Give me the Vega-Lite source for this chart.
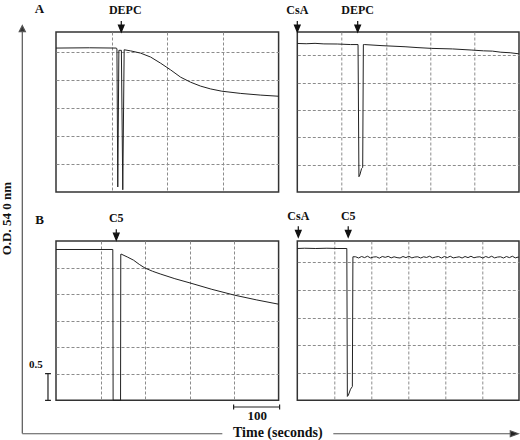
{
  "$schema": "https://vega.github.io/schema/vega-lite/v6.json",
  "autosize": {"type": "pad"},
  "padding": {"left": 0, "top": 1, "right": 0, "bottom": 0},
  "background": "white",
  "bounds": "flush",
  "align": "all",
  "columns": 2,
  "spacing": {"row": 49, "column": 18.3},
  "config": {
    "view": {"stroke": "#333", "strokeWidth": 1.5},
    "axis": {"grid": true, "tickCount": 12, "gridColor": "#8c8c8c", "gridDash": [3, 2], "gridWidth": 1, "labels": false, "ticks": false, "domain": false, "title": null},
    "text": {"font": "Liberation Serif", "fontWeight": "bold", "color": "#111"}
  },
  "datasets": {
    "a1": [
      {"t": 0, "od": 2.57}, {"t": 60, "od": 2.575}, {"t": 108, "od": 2.57}, {"t": 109.5, "od": 2.56},
      {"t": 111, "od": 0.09}, {"t": 113, "od": 2.53}, {"t": 117.5, "od": 2.53}, {"t": 120, "od": 0.04},
      {"t": 122.5, "od": 2.54}, {"t": 134, "od": 2.52}, {"t": 152, "od": 2.48}, {"t": 170, "od": 2.41},
      {"t": 188, "od": 2.3}, {"t": 206, "od": 2.18}, {"t": 224, "od": 2.05}, {"t": 242, "od": 1.96},
      {"t": 260, "od": 1.89}, {"t": 278, "od": 1.84}, {"t": 298, "od": 1.8}, {"t": 332, "od": 1.76},
      {"t": 368, "od": 1.73}, {"t": 400, "od": 1.71}
    ],
    "a2": [
      {"t": 0, "od": 2.72}, {"t": 20, "od": 2.715}, {"t": 40, "od": 2.722}, {"t": 60, "od": 2.712}, {"t": 90, "od": 2.71},
      {"t": 120, "od": 2.7}, {"t": 137, "od": 2.7}, {"t": 139, "od": 0.28}, {"t": 141, "od": 0.31},
      {"t": 145, "od": 0.43}, {"t": 147.5, "od": 0.45}, {"t": 149, "od": 2.7}, {"t": 151, "od": 2.7},
      {"t": 191, "od": 2.68}, {"t": 243, "od": 2.66}, {"t": 270, "od": 2.645}, {"t": 303, "od": 2.63}, {"t": 350, "od": 2.62},
      {"t": 392, "od": 2.6}, {"t": 420, "od": 2.585}, {"t": 440, "od": 2.58}, {"t": 459, "od": 2.56}, {"t": 480, "od": 2.55}, {"t": 500, "od": 2.53}
    ],
    "b1": [
      {"t": 0, "od": 2.84}, {"t": 127.6, "od": 2.84}, {"t": 128.3, "od": 0}, {"t": 145, "od": 0},
      {"t": 145.5, "od": 2.75}, {"t": 146, "od": 2.755}, {"t": 160, "od": 2.7}, {"t": 174, "od": 2.64},
      {"t": 187, "od": 2.56}, {"t": 200, "od": 2.49}, {"t": 217, "od": 2.43}, {"t": 234, "od": 2.38},
      {"t": 267, "od": 2.29}, {"t": 301, "od": 2.21}, {"t": 350, "od": 2.09}, {"t": 401, "od": 1.98},
      {"t": 451, "od": 1.89}, {"t": 500, "od": 1.81}
    ],
    "b2": [
      {"t": 0, "od": 2.75}, {"t": 20, "od": 2.755}, {"t": 50, "od": 2.75}, {"t": 80, "od": 2.755},
      {"t": 110, "od": 2.75}, {"t": 134, "od": 2.75}, {"t": 135.5, "od": 0.07}, {"t": 138, "od": 0.09},
      {"t": 144, "od": 0.2}, {"t": 149, "od": 0.25}, {"t": 150.5, "od": 2.6},
      {"t": 158, "od": 2.6}, {"t": 166, "od": 2.578}, {"t": 174, "od": 2.605}, {"t": 182, "od": 2.585}, {"t": 190, "od": 2.61}, {"t": 198, "od": 2.58}, {"t": 206, "od": 2.595},
      {"t": 214, "od": 2.6}, {"t": 222, "od": 2.575}, {"t": 230, "od": 2.605}, {"t": 238, "od": 2.59}, {"t": 246, "od": 2.608}, {"t": 254, "od": 2.58}, {"t": 262, "od": 2.6},
      {"t": 270, "od": 2.585}, {"t": 278, "od": 2.578}, {"t": 286, "od": 2.605}, {"t": 294, "od": 2.585}, {"t": 302, "od": 2.61}, {"t": 310, "od": 2.58}, {"t": 318, "od": 2.595},
      {"t": 326, "od": 2.6}, {"t": 334, "od": 2.578}, {"t": 342, "od": 2.6}, {"t": 350, "od": 2.588}, {"t": 358, "od": 2.61}, {"t": 366, "od": 2.58}, {"t": 374, "od": 2.595},
      {"t": 382, "od": 2.605}, {"t": 390, "od": 2.578}, {"t": 398, "od": 2.605}, {"t": 406, "od": 2.585}, {"t": 414, "od": 2.61}, {"t": 422, "od": 2.58}, {"t": 430, "od": 2.59},
      {"t": 438, "od": 2.6}, {"t": 446, "od": 2.578}, {"t": 454, "od": 2.605}, {"t": 462, "od": 2.585}, {"t": 470, "od": 2.61}, {"t": 478, "od": 2.582}, {"t": 486, "od": 2.595},
      {"t": 494, "od": 2.6}, {"t": 502, "od": 2.578}, {"t": 510, "od": 2.605}, {"t": 518, "od": 2.585}, {"t": 526, "od": 2.61}, {"t": 534, "od": 2.58}, {"t": 542, "od": 2.595},
      {"t": 550, "od": 2.6}, {"t": 558, "od": 2.578}, {"t": 566, "od": 2.605}, {"t": 574, "od": 2.585}, {"t": 582, "od": 2.61}, {"t": 590, "od": 2.58}, {"t": 598, "od": 2.595}, {"t": 600, "od": 2.59}
    ],
    "a1_ev": [{"t": 117.3, "label": "DEPC"}],
    "a2_ev": [{"t": 0, "label": "CsA"}, {"t": 136.2, "label": "DEPC"}],
    "b1_ev": [{"t": 135.4, "label": "C5"}],
    "b2_ev": [{"t": 2.7, "label": "CsA"}, {"t": 137.8, "label": "C5"}]
  },
  "concat": [
    {
      "width": 222.6, "height": 160,
      "layer": [
        {"data": {"name": "a1"}, "mark": {"type": "line", "color": "#222", "strokeWidth": 1},
         "encoding": {
           "x": {"field": "t", "type": "quantitative", "scale": {"domain": [0, 400], "nice": false, "zero": false}, "axis": {"values": [100, 200, 300]}},
           "y": {"field": "od", "type": "quantitative", "scale": {"domain": [0, 2.857], "nice": false, "zero": false}, "axis": {"values": [0.5, 1, 1.5, 2, 2.5]}}}},
        {"data": {"name": "a1_ev"}, "mark": {"type": "point", "shape": "M0,-1L0,-0.3M-0.52,-0.27L0.52,-0.27L0,1Z", "filled": true, "fill": "#111", "stroke": "#111", "strokeWidth": 1.2, "size": 121, "opacity": 1},
         "encoding": {"x": {"field": "t", "type": "quantitative"}, "y": {"datum": 2.955, "type": "quantitative"}}},
        {"data": {"name": "a1_ev"}, "mark": {"type": "text", "fontSize": 12, "baseline": "alphabetic", "dx": 4},
         "encoding": {"x": {"field": "t", "type": "quantitative"}, "y": {"datum": 3.184, "type": "quantitative"}, "text": {"field": "label"}}},
        {"data": {"values": [{"panel": "A"}]}, "mark": {"type": "text", "fontSize": 13, "baseline": "alphabetic"},
         "encoding": {"x": {"datum": -29.65, "type": "quantitative"}, "y": {"datum": 3.202, "type": "quantitative"}, "text": {"field": "panel"}}}
      ]
    },
    {
      "width": 221.7, "height": 160,
      "layer": [
        {"data": {"name": "a2"}, "mark": {"type": "line", "color": "#222", "strokeWidth": 1},
         "encoding": {
           "x": {"field": "t", "type": "quantitative", "scale": {"domain": [0, 500], "nice": false, "zero": false}, "axis": {"values": [100, 200, 300, 400]}},
           "y": {"field": "od", "type": "quantitative", "scale": {"domain": [0, 2.93], "nice": false, "zero": false}, "axis": {"values": [0.5, 1, 1.5, 2, 2.5]}}}},
        {"data": {"name": "a2_ev"}, "mark": {"type": "point", "shape": "M0,-1L0,-0.3M-0.52,-0.27L0.52,-0.27L0,1Z", "filled": true, "fill": "#111", "stroke": "#111", "strokeWidth": 1.2, "size": 121, "opacity": 1},
         "encoding": {"x": {"field": "t", "type": "quantitative"}, "y": {"datum": 3.031, "type": "quantitative"}}},
        {"data": {"name": "a2_ev"}, "mark": {"type": "text", "fontSize": 12, "baseline": "alphabetic"},
         "encoding": {"x": {"field": "t", "type": "quantitative"}, "y": {"datum": 3.266, "type": "quantitative"}, "text": {"field": "label"}}}
      ]
    },
    {
      "width": 222.6, "height": 159.3,
      "layer": [
        {"data": {"name": "b1"}, "mark": {"type": "line", "color": "#222", "strokeWidth": 1},
         "encoding": {
           "x": {"field": "t", "type": "quantitative", "scale": {"domain": [0, 500], "nice": false, "zero": false}, "axis": {"values": [100, 200, 300, 400]}},
           "y": {"field": "od", "type": "quantitative", "scale": {"domain": [0, 3], "nice": false, "zero": false}, "axis": {"values": [0.5, 1, 1.5, 2, 2.5]}}}},
        {"data": {"name": "b1_ev"}, "mark": {"type": "point", "shape": "M0,-1L0,-0.3M-0.52,-0.27L0.52,-0.27L0,1Z", "filled": true, "fill": "#111", "stroke": "#111", "strokeWidth": 1.2, "size": 121, "opacity": 1},
         "encoding": {"x": {"field": "t", "type": "quantitative"}, "y": {"datum": 3.119, "type": "quantitative"}}},
        {"data": {"name": "b1_ev"}, "mark": {"type": "text", "fontSize": 12, "baseline": "alphabetic"},
         "encoding": {"x": {"field": "t", "type": "quantitative"}, "y": {"datum": 3.358, "type": "quantitative"}, "text": {"field": "label"}}},
        {"data": {"values": [{"panel": "B"}]}, "mark": {"type": "text", "fontSize": 13, "baseline": "alphabetic"},
         "encoding": {"x": {"datum": -37.1, "type": "quantitative"}, "y": {"datum": 3.326, "type": "quantitative"}, "text": {"field": "panel"}}},
        {"data": {"values": [{"bar": "0.5"}]}, "mark": {"type": "point", "shape": "M-0.22,-1L0.22,-1M0,-1L0,1M-0.22,1L0.22,1", "filled": false, "stroke": "#222", "strokeWidth": 1.2, "size": 708, "opacity": 1},
         "encoding": {"x": {"datum": -18, "type": "quantitative"}, "y": {"datum": 0.25, "type": "quantitative"}}},
        {"data": {"values": [{"lbl": "0.5"}]}, "mark": {"type": "text", "fontSize": 11, "baseline": "alphabetic"},
         "encoding": {"x": {"datum": -45.4, "type": "quantitative"}, "y": {"datum": 0.614, "type": "quantitative"}, "text": {"field": "lbl"}}},
        {"data": {"values": [{"bar": "100"}]}, "mark": {"type": "point", "shape": "M-1,-0.11L-1,0.11M-1,0L1,0M1,-0.11L1,0.11", "filled": false, "stroke": "#222", "strokeWidth": 1.2, "size": 2116, "opacity": 1},
         "encoding": {"x": {"datum": 450.6, "type": "quantitative"}, "y": {"datum": -0.126, "type": "quantitative"}}},
        {"data": {"values": [{"lbl": "100"}]}, "mark": {"type": "text", "fontSize": 13, "baseline": "alphabetic"},
         "encoding": {"x": {"datum": 452.2, "type": "quantitative"}, "y": {"datum": -0.377, "type": "quantitative"}, "text": {"field": "lbl"}}},
        {"data": {"values": [{"axis": "O.D.  54 0  nm"}]}, "mark": {"type": "point", "shape": "M0,1L0,-0.97M-0.015,-0.97L0.015,-0.97L0,-1Z", "filled": true, "fill": "#333", "stroke": "#555", "strokeWidth": 1.2, "size": 166464, "opacity": 1},
         "encoding": {"x": {"datum": -75.7, "type": "quantitative"}, "y": {"datum": 3.2166, "type": "quantitative"}}},
        {"data": {"values": [{"axis": "O.D.  54 0  nm"}]}, "mark": {"type": "text", "angle": 270, "fontSize": 13, "align": "center", "baseline": "middle"},
         "encoding": {"x": {"datum": -109.5, "type": "quantitative"}, "y": {"datum": 3.42, "type": "quantitative"}, "text": {"field": "axis"}}},
        {"data": {"values": [{"axis": "Time    (seconds)"}]}, "mark": {"type": "point", "shape": "M-1,0L-0.1935,0M0.254,0L0.9677,0M0.9677,-0.0121L0.9677,0.0121L1,0Z", "filled": true, "fill": "#222", "stroke": "#555", "strokeWidth": 1.2, "size": 246016, "opacity": 1},
         "encoding": {"x": {"datum": 481.4, "type": "quantitative"}, "y": {"datum": -0.63, "type": "quantitative"}}},
        {"data": {"values": [{"axis": "Time    (seconds)"}]}, "mark": {"type": "text", "fontSize": 14, "align": "center", "baseline": "middle"},
         "encoding": {"x": {"datum": 498.2, "type": "quantitative"}, "y": {"datum": -0.622, "type": "quantitative"}, "text": {"field": "axis"}}}
      ]
    },
    {
      "width": 221.7, "height": 159.3,
      "layer": [
        {"data": {"name": "b2"}, "mark": {"type": "line", "color": "#222", "strokeWidth": 1},
         "encoding": {
           "x": {"field": "t", "type": "quantitative", "scale": {"domain": [0, 600], "nice": false, "zero": false}, "axis": {"values": [100, 200, 300, 400, 500]}},
           "y": {"field": "od", "type": "quantitative", "scale": {"domain": [0, 2.886], "nice": false, "zero": false}, "axis": {"values": [0.5, 1, 1.5, 2, 2.5]}}}},
        {"data": {"name": "b2_ev"}, "mark": {"type": "point", "shape": "M0,-1L0,-0.3M-0.52,-0.27L0.52,-0.27L0,1Z", "filled": true, "fill": "#111", "stroke": "#111", "strokeWidth": 1.2, "size": 121, "opacity": 1},
         "encoding": {"x": {"field": "t", "type": "quantitative"}, "y": {"datum": 3.053, "type": "quantitative"}}},
        {"data": {"name": "b2_ev"}, "mark": {"type": "text", "fontSize": 12, "baseline": "alphabetic"},
         "encoding": {"x": {"field": "t", "type": "quantitative"}, "y": {"datum": 3.261, "type": "quantitative"}, "text": {"field": "label"}}}
      ]
    }
  ]
}
